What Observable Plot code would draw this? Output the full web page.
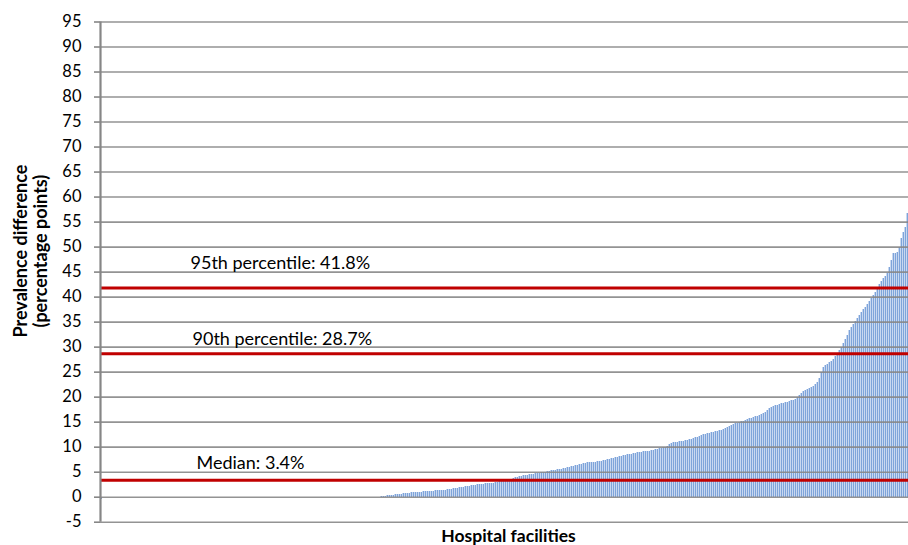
<!DOCTYPE html>
<html>
<head>
<meta charset="utf-8">
<script src="https://cdn.jsdelivr.net/npm/d3@7"></script>
<script src="https://cdn.jsdelivr.net/npm/@observablehq/plot@0.6"></script>
<style>
  html, body { margin: 0; padding: 0; background: #fff; }
  #chart svg { display: block; }
</style>
</head>
<body>
<div id="chart"></div>
<script>
// Prevalence difference (percentage points) per hospital facility, sorted ascending
const facilityValues = [
  -0.5,
  0,0,0,0,0,0,0,0,0,0, 0,0,0,0,0,0,0,0,0,0, 0,0,0,0,0,0,0,0,0,0, 0,0,0,0,0,0,0,0,0,0,
  0,0,0,0,0,0,0,0,0,0, 0,0,0,0,0,0,0,0,0,0, 0,0,0,0,0,0,0,0,0,0, 0,0,0,0,0,0,0,0,0,0,
  0,0,0,0,0,0,0,0,0,0, 0,0,0,0,0,0,0,0,0,0, 0,0,0,0,0,0,0,0,0,0, 0,0,0,0,0,0,0,0,0,0,
  0,0,0,0,0,0,0,0,0,0, 0,0,0,0,0,0,0,0,0,
  0.1,0.15,0.2,0.25,0.3,0.35,0.4,0.45,0.5,0.55,
  0.6,0.65,0.7,0.75,0.8,0.85,0.9,0.9,0.95,1.0,
  1.0,1.05,1.1,1.1,1.15,1.2,1.2,1.25,1.25,1.3,
  1.3,1.35,1.4,1.5,1.55,1.6,1.65,1.7,1.8,1.85,
  1.9,2.0,2.05,2.1,2.2,2.25,2.3,2.4,2.45,2.5,
  2.55,2.6,2.65,2.7,2.75,2.8,2.8,2.9,3.0,3.1,
  3.2,3.3,3.4,3.45,3.5,3.6,3.8,3.9,4.0,4.1,
  4.2,4.25,4.3,4.4,4.5,4.55,4.6,4.7,4.75,4.8,
  4.9,4.95,5.0,5.1,5.2,5.25,5.3,5.4,5.5,5.55,
  5.6,5.7,5.8,5.85,5.95,6.05,6.15,6.25,6.35,6.45,
  6.55,6.65,6.75,6.85,6.9,6.95,7.0,7.0,7.05,7.1,
  7.15,7.25,7.35,7.45,7.55,7.65,7.75,7.9,8.0,8.1,
  8.2,8.3,8.35,8.45,8.55,8.6,8.7,8.75,8.85,8.9,
  9.0,9.05,9.1,9.15,9.2,9.3,9.4,9.5,9.6,9.7,
  9.8,9.9,10.0,10.2,10.5,10.7,10.9,10.95,11.0,11.1,
  11.15,11.2,11.3,11.35,11.45,11.5,11.7,11.85,12.0,12.15,
  12.3,12.45,12.6,12.7,12.8,12.9,13.0,13.1,13.2,13.3,
  13.4,13.5,13.7,13.9,14.1,14.3,14.5,14.65,14.8,14.9,
  15.05,15.2,15.35,15.5,15.65,15.8,15.9,16.05,16.2,16.35,
  16.5,16.7,17.0,17.35,17.7,17.95,18.1,18.25,18.4,18.6,
  18.7,18.8,18.9,19.0,19.1,19.25,19.35,19.6,20.0,20.4,
  20.8,21.05,21.3,21.5,21.7,21.85,22.1,22.5,23.0,23.8,
  25.0,26.0,26.3,26.6,26.9,27.2,27.6,28.1,28.7,29.3,
  30.0,30.7,31.5,32.4,33.3,33.9,34.5,35.1,35.7,36.3,
  36.9,37.5,38.0,38.6,39.2,39.7,40.3,41.0,41.7,42.6,
  43.2,43.7,44.2,44.7,46.0,47.4,48.7,48.8,49.0,50.0,
  51.7,52.9,54.0,56.7
];

// Reference lines
const refLabels = ["95th percentile: 41.8%", "90th percentile: 28.7%", "Median: 3.4%"];
const refValues = [41.8, 28.7, 3.4];

// Y-axis ticks
const yTicks = [-5,0,5,10,15,20,25,30,35,40,45,50,55,60,65,70,75,80,85,90,95];

const yTitle = "Prevalence difference\n(percentage points)";
const xTitle = "Hospital facilities";

const bars = facilityValues.map((v, i) => ({i, v}));
const refs = refValues.map((v, k) => ({v, label: refLabels[k]}));

const font = "Lato, 'Open Sans', sans-serif";

const chart = Plot.plot({
  width: 908,
  height: 545,
  marginLeft: 100,
  marginRight: 0,
  marginTop: 21.5,
  marginBottom: 23.3,
  style: {fontFamily: font, fontSize: "16px", color: "#000", background: "#fff"},
  x: {domain: [0, facilityValues.length], axis: null},
  y: {domain: [-5, 95], axis: null},
  marks: [
    Plot.rectY(bars, {
      x1: d => d.i, x2: d => d.i + 1, y1: 0, y2: "v",
      fill: "#c8d8f0", insetRight: 0.15, shapeRendering: "crispEdges"
    }),
    Plot.ruleX(bars.filter(d => d.v !== 0), {
      x: d => d.i + 0.25, y1: 0, y2: "v",
      stroke: "#7ea4da", strokeWidth: 1, shapeRendering: "crispEdges"
    }),
    Plot.gridY(yTicks, {stroke: "#878787", strokeOpacity: 0.9, strokeWidth: 1.6}),
    Plot.ruleY(refs, {y: "v", stroke: "#c00000", strokeWidth: 3}),
    Plot.ruleX([0], {stroke: "#868686", strokeWidth: 2.2}),
    Plot.axisY(yTicks, {
      tickSize: 6, tickPadding: 13, stroke: "#868686", strokeWidth: 1.6,
      fontSize: 16.5, fill: "#000", label: null, tickFormat: d => String(d)
    }),
    Plot.text([refs[0]], {y: "v", text: "label", frameAnchor: "left", textAnchor: "start",
      dx: 90, dy: -25, fontSize: 18, fill: "#000"}),
    Plot.text([refs[1]], {y: "v", text: "label", frameAnchor: "left", textAnchor: "start",
      dx: 92, dy: -14, fontSize: 18, fill: "#000"}),
    Plot.text([refs[2]], {y: "v", text: "label", frameAnchor: "left", textAnchor: "start",
      dx: 96, dy: -17, fontSize: 18, fill: "#000"}),
    Plot.text([yTitle], {frameAnchor: "left", rotate: -90, textAnchor: "middle",
      dx: -70, dy: -21, fontWeight: "bold", fontSize: 18, lineHeight: 1.15, fill: "#000"}),
    Plot.text([xTitle], {frameAnchor: "bottom", textAnchor: "middle", lineAnchor: "top",
      dx: 4, dy: 7, fontWeight: "bold", fontSize: 17.5, fill: "#000"})
  ]
});

document.getElementById("chart").appendChild(chart);
</script>
</body>
</html>
